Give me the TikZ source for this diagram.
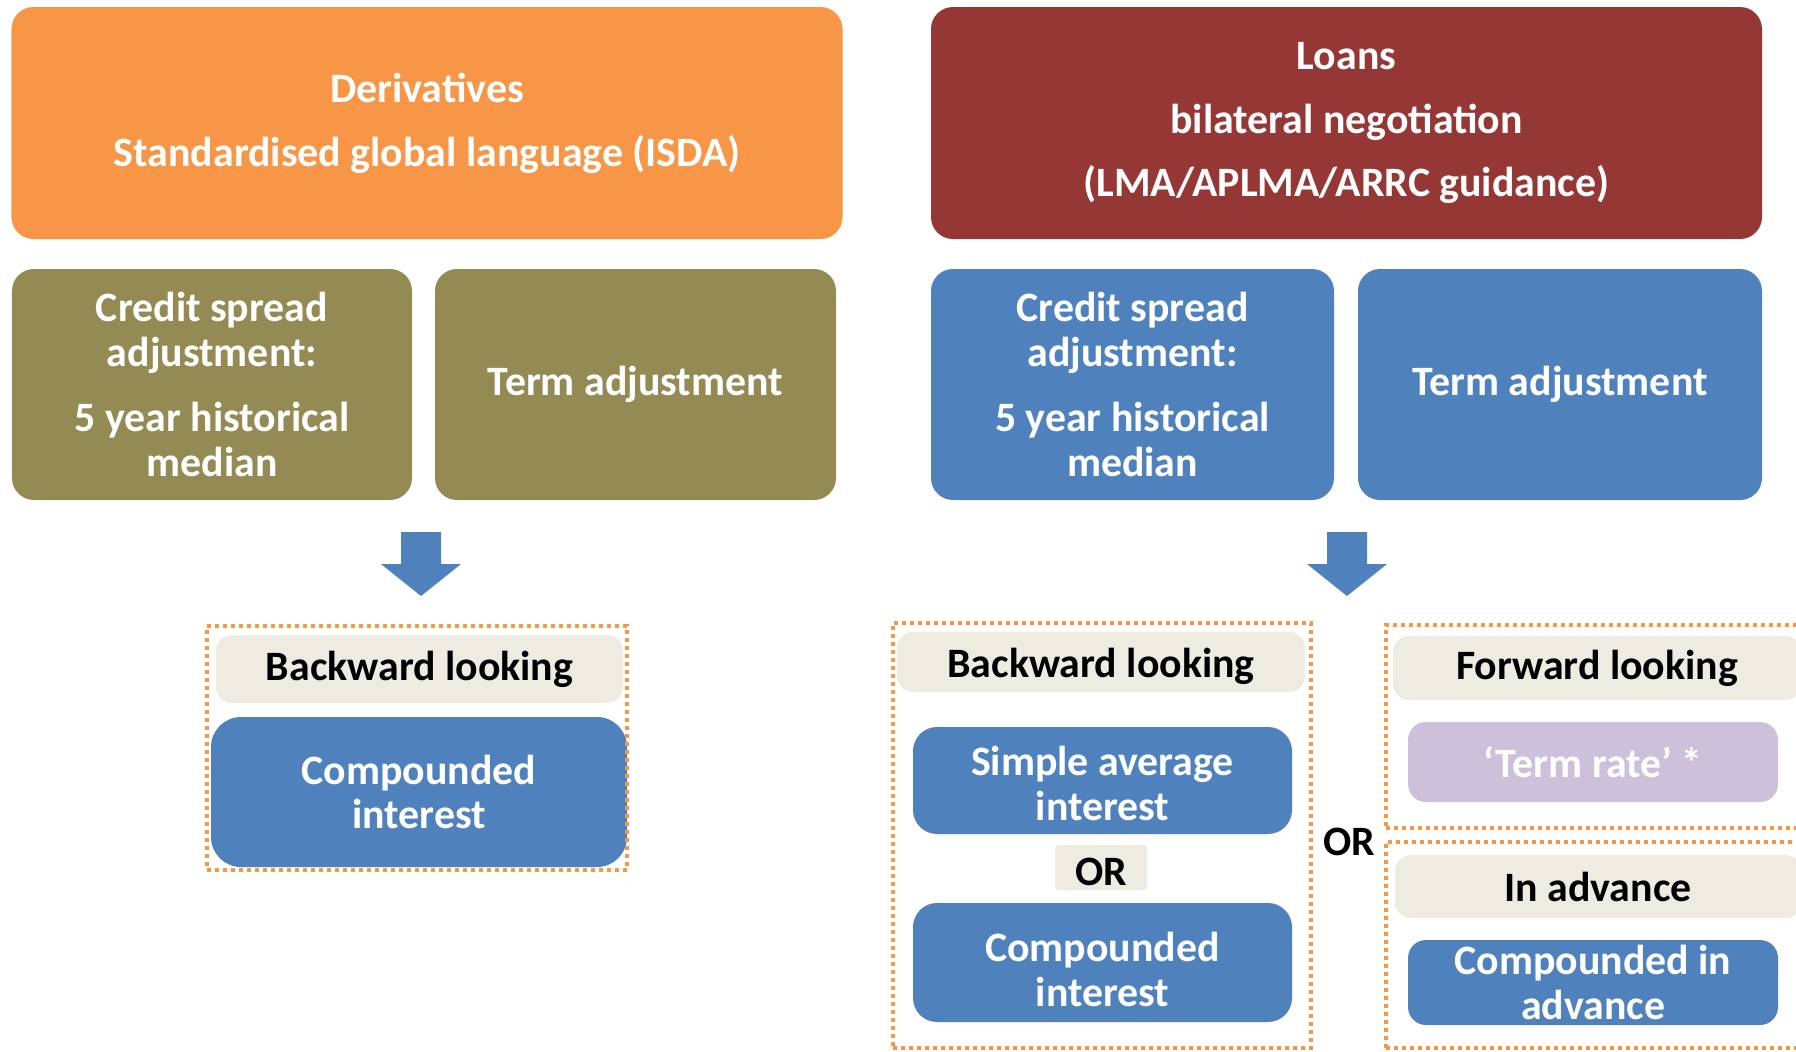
\documentclass[tikz,border=0pt]{standalone}
\usepackage{fontspec}
\setmainfont{Carlito}
\usetikzlibrary{calc}
\definecolor{orng}{HTML}{F79646}
\definecolor{dred}{HTML}{953735}
\definecolor{olive}{HTML}{948A54}
\definecolor{bblue}{HTML}{4F81BD}
\definecolor{beige}{HTML}{EEECE1}
\definecolor{lilac}{HTML}{CCC0DA}
\begin{document}
\begin{tikzpicture}[x=1bp,y=-1bp,
  txt/.style={font=\bfseries\fontsize{42}{45}\selectfont, align=center, inner sep=0pt},
  bigbox/.style={txt, rounded corners=22bp, text=white},
  labbox/.style={txt, rounded corners=16bp, fill=beige, text=black},
  resbox/.style={txt, rounded corners=24bp, fill=bblue, text=white},
  dotbox/.style={draw=orng, line width=3.6bp, dash pattern=on 4bp off 4bp, inner sep=0pt}]
\useasboundingbox (0,0) rectangle (1796,1051);
\clip (0,0) rectangle (1796,1051);
% top boxes
\node[bigbox, fill=orng, minimum width=831bp, minimum height=232bp] (deriv) at (427,123)
  {Derivatives\\[19bp]Standardised global language (ISDA)};
\node[bigbox, fill=dred, minimum width=831bp, minimum height=232bp] (loans) at (1346.5,123)
  {Loans\\[19bp]bilateral negotiation\\[19bp](LMA/APLMA/ARRC guidance)};
% second row
\node[bigbox, fill=olive, minimum width=400bp, minimum height=231bp] (csaL) at (212,384.5)
  {Credit spread\\adjustment:\\[20bp]5 year historical\\median};
\node[bigbox, fill=olive, minimum width=401bp, minimum height=231bp] (termL) at (635.5,384.5)
  {Term adjustment};
\node[bigbox, fill=bblue, minimum width=403bp, minimum height=231bp] (csaR) at (1132.5,384.5)
  {Credit spread\\adjustment:\\[20bp]5 year historical\\median};
\node[bigbox, fill=bblue, minimum width=404bp, minimum height=231bp] (termR) at (1560,384.5)
  {Term adjustment};
% block arrows
\coordinate (aL) at (421,532);
\coordinate (aR) at (1347,532);
\foreach \c in {aL,aR}{
  \fill[bblue] ($(\c)+(-20,0)$) -- ($(\c)+(20,0)$) -- ($(\c)+(20,32)$) -- ($(\c)+(40,32)$)
    -- ($(\c)+(0,64)$) -- ($(\c)+(-40,32)$) -- ($(\c)+(-20,32)$) -- cycle;
}
% left bottom group
\node[labbox, minimum width=407bp, minimum height=68bp] (bwL) at (419.5,669) {Backward looking};
\node[resbox, minimum width=416bp, minimum height=150bp, rounded corners=30bp] (cmpL) at (419,792) {Compounded\\interest};
\node[dotbox, minimum width=420bp, minimum height=244bp] (grpL) at (417,748) {};
% right backward group
\node[labbox, minimum width=408bp, minimum height=60bp,
  label={[txt, text=black, yshift=-4bp]center:Backward looking}] (bwR) at (1101,662) {};
\node[resbox, minimum width=379bp, minimum height=107bp,
  label={[txt, text=white, yshift=-3bp]center:{Simple average\\interest}}] (simp) at (1102.5,780.5) {};
\node[labbox, rounded corners=3bp, minimum width=92bp, minimum height=45bp,
  label={[txt, text=black, yshift=-4bp]center:OR}] (or1) at (1101,867.5) {};
\node[resbox, minimum width=379bp, minimum height=119bp,
  label={[txt, text=white, yshift=-7bp]center:{Compounded\\interest}}] (cmpR) at (1102.5,962.5) {};
\node[dotbox, minimum width=418bp, minimum height=425bp] (grpR) at (1102,835.5) {};
% OR between
\node[txt, text=black] (or2) at (1349,842) {OR};
% forward group
\node[labbox, minimum width=408bp, minimum height=64bp] (fw) at (1597,668) {Forward looking};
\node[resbox, fill=lilac, minimum width=370bp, minimum height=80bp, rounded corners=18bp] (term) at (1593,762) {‘Term rate’ *};
\node[dotbox, minimum width=420bp, minimum height=203bp] (grpF) at (1596,726.5) {};
% in advance group
\node[labbox, minimum width=406bp, minimum height=63bp] (adv) at (1598,886.5) {In advance};
\node[resbox, minimum width=370bp, minimum height=85bp, rounded corners=18bp] (cmpA) at (1593,982.5) {Compounded in\\advance};
\node[dotbox, minimum width=420bp, minimum height=206bp] (grpA) at (1596,945) {};
\end{tikzpicture}
\end{document}
